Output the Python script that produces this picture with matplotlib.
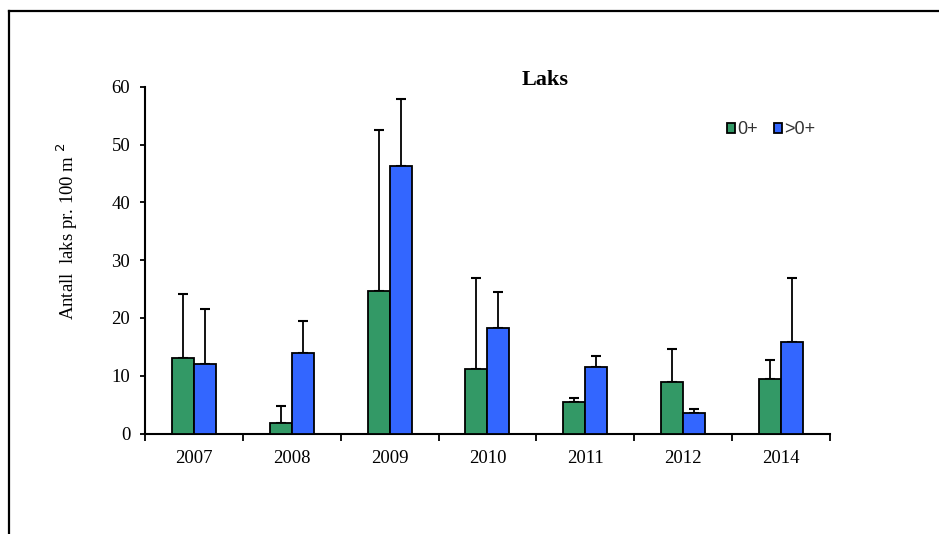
import numpy as np
import matplotlib.pyplot as plt
from matplotlib.lines import Line2D

# Laks - antall per 100 m2, mean with upper std bar
years = ["2007", "2008", "2009", "2010", "2011", "2012", "2014"]
yngel = [13.0, 1.9, 24.7, 11.2, 5.5, 9.0, 9.4]          # 0+
yngel_top = [24.1, 4.8, 52.5, 27.0, 6.1, 14.7, 12.8]
eldre = [12.0, 14.0, 46.4, 18.2, 11.6, 3.5, 15.8]        # >0+
eldre_top = [21.5, 19.5, 57.9, 24.5, 13.4, 4.2, 26.9]

green = "#339966"
blue = "#3366FF"

plt.rcParams["font.family"] = ["Liberation Serif", "DejaVu Serif"]

fig = plt.figure(figsize=(9.39, 5.34), dpi=100)
ax = fig.add_axes([0.1544, 0.1882, 0.7295, 0.6489])

x = np.arange(len(years))
w = 0.225
err_g = [np.zeros(len(x)), np.array(yngel_top) - np.array(yngel)]
err_b = [np.zeros(len(x)), np.array(eldre_top) - np.array(eldre)]

ax.bar(x - w / 2, yngel, w, color=green, edgecolor="black", linewidth=1.3,
       label="0+", zorder=3)
ax.bar(x + w / 2, eldre, w, color=blue, edgecolor="black", linewidth=1.3,
       label=">0+", zorder=3)
ax.errorbar(x - w / 2, yngel, yerr=err_g, fmt="none", ecolor="black",
            elinewidth=1.3, capsize=3.5, capthick=1.5, zorder=2)
ax.errorbar(x + w / 2, eldre, yerr=err_b, fmt="none", ecolor="black",
            elinewidth=1.3, capsize=3.5, capthick=1.5, zorder=2)

ax.set_xlim(-0.5, len(years) - 0.5)
ax.set_ylim(0, 60)
ax.set_yticks(range(0, 61, 10))
ax.tick_params(axis="y", direction="out", length=3.6, width=1.3,
               labelsize=13.5, pad=7)

# boundary ticks on x, year labels centred under each group
ax.set_xticks(np.arange(-0.5, len(years), 1.0))
ax.set_xticklabels([])
ax.set_xticks(x, minor=True)
ax.set_xticklabels(years, minor=True)
ax.tick_params(axis="x", which="major", direction="out", length=5, width=1.3)
ax.tick_params(axis="x", which="minor", length=0, labelsize=13.5, pad=12)

for s in ["top", "right"]:
    ax.spines[s].set_visible(False)
for s in ["left", "bottom"]:
    ax.spines[s].set_linewidth(1.5)

fig.text(0.5804, 0.85, "Laks", ha="center", va="center",
         fontsize=16, fontweight="bold")
fig.text(0.072, 0.567, "Antall  laks pr. 100 m $^{2}$", rotation=90,
         ha="center", va="center", fontsize=13.5)

leg = ax.legend(ncol=2, frameon=False, loc="center left",
                bbox_to_anchor=(0.826, 0.877), handlelength=0.45,
                handleheight=0.45, handletextpad=0.1, columnspacing=0.9,
                labelcolor="#333333",
                prop={"family": "Liberation Sans", "size": 13})

# outer frame lines
fig.add_artist(Line2D([9 / 939, 1.0], [1 - 11 / 534, 1 - 11 / 534],
                      color="black", linewidth=1.6, transform=fig.transFigure))
fig.add_artist(Line2D([9 / 939, 9 / 939], [0.0, 1 - 11 / 534],
                      color="black", linewidth=1.6, transform=fig.transFigure))

fig.savefig("out.png", dpi=100)
